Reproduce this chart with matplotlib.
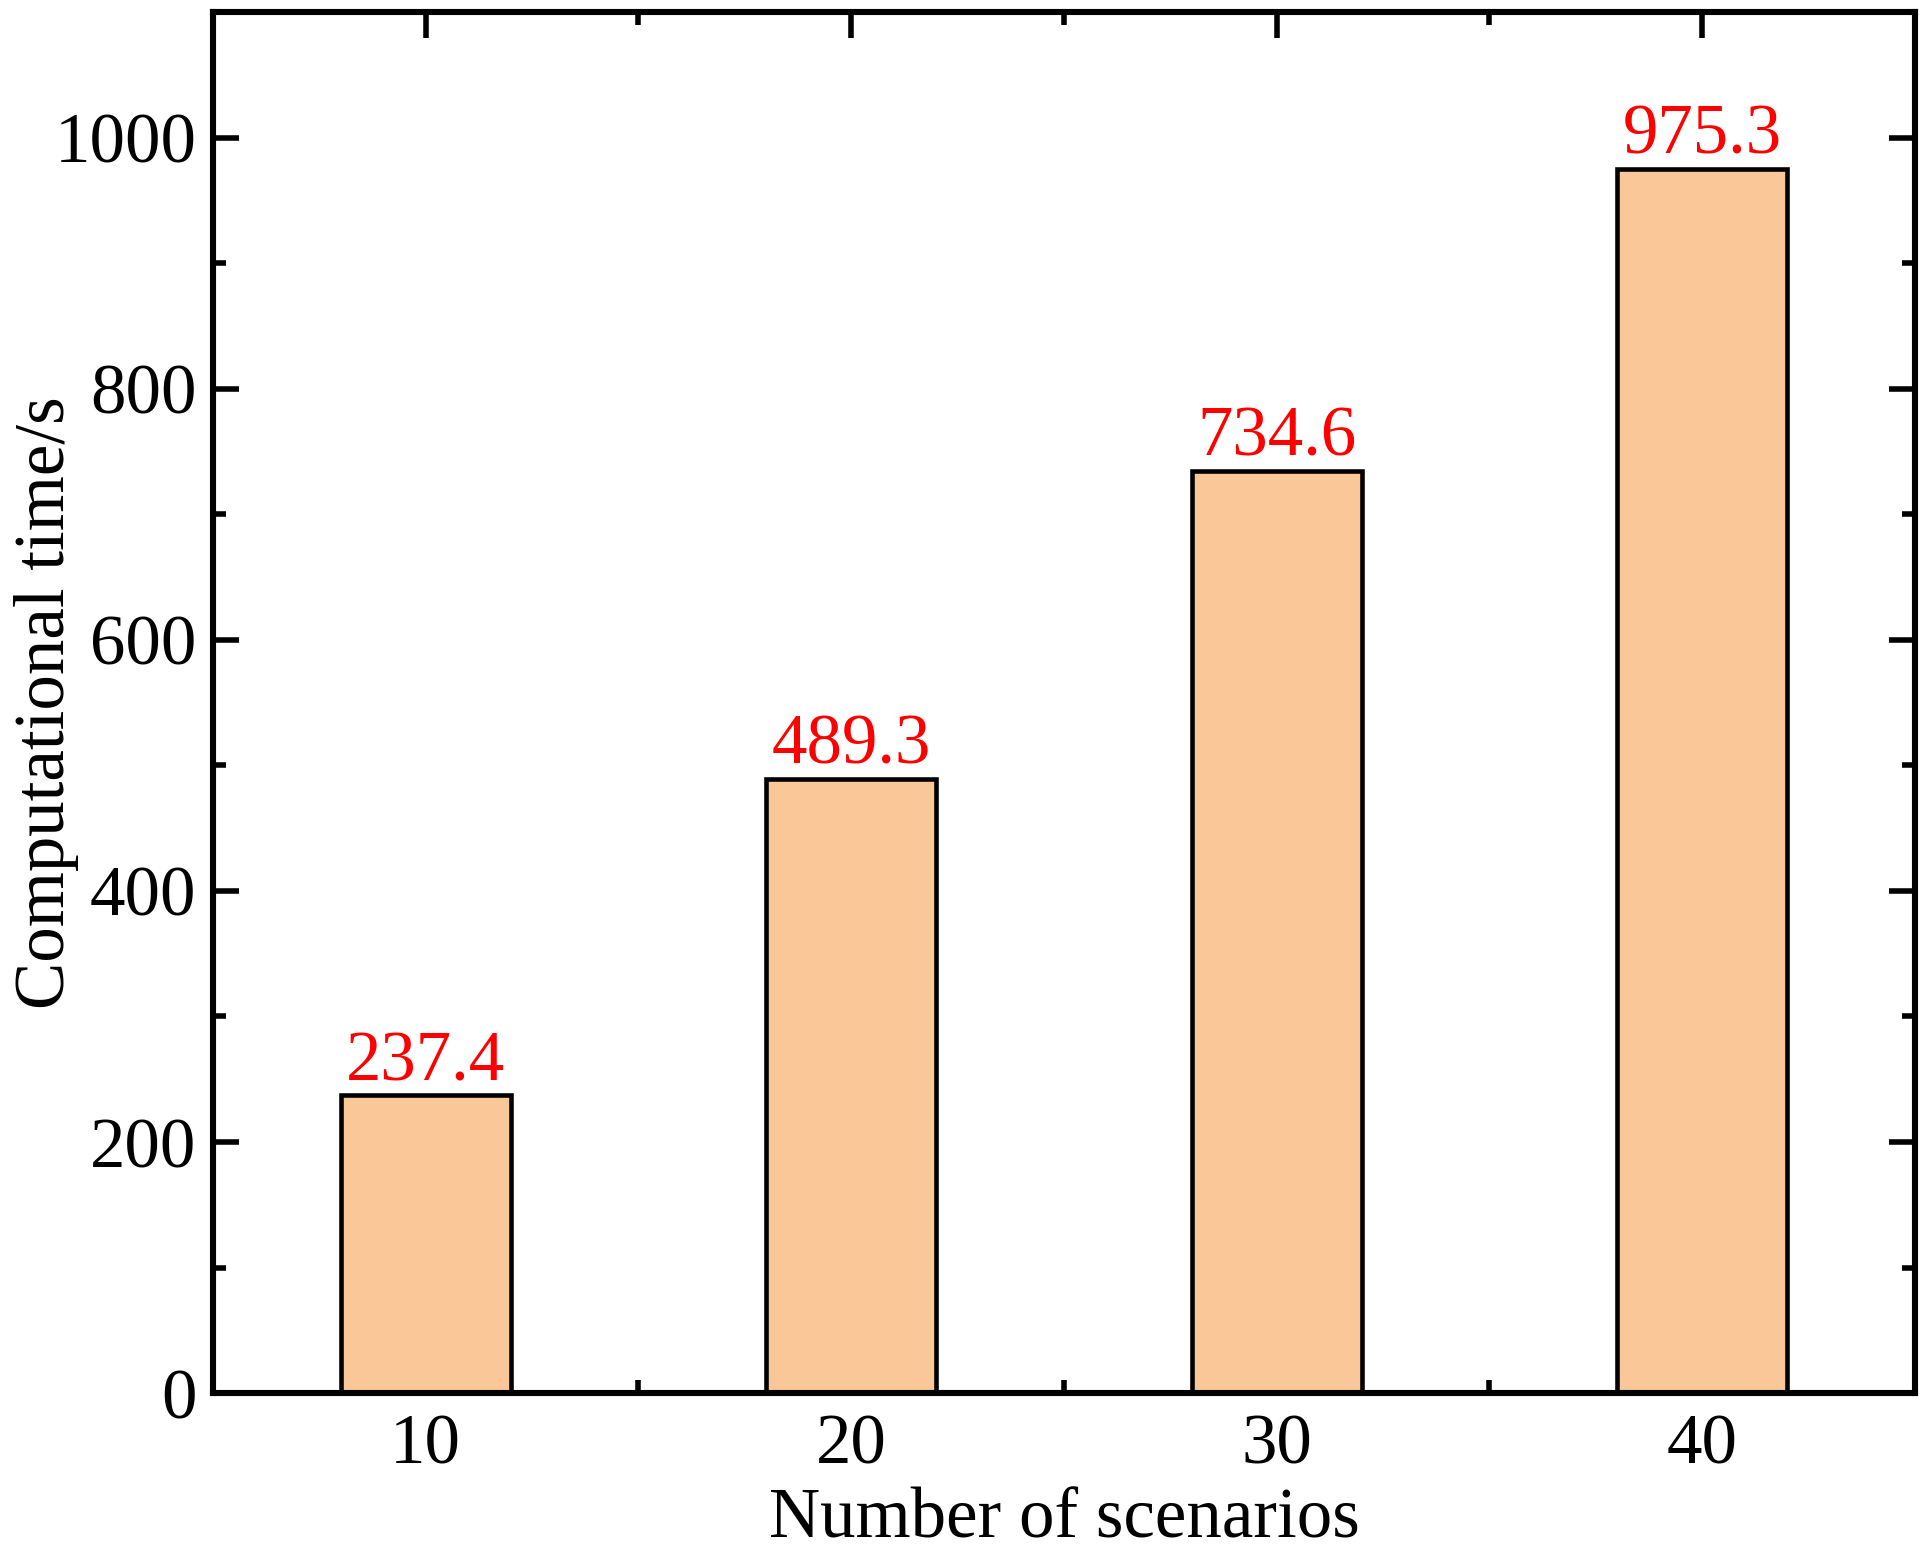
import matplotlib
matplotlib.use("Agg")
import matplotlib.pyplot as plt
from matplotlib.ticker import MultipleLocator, FixedLocator

# data
scenarios = [10, 20, 30, 40]
comp_time = [237.4, 489.3, 734.6, 975.3]

plt.rcParams["font.family"] = ["Liberation Serif", "DejaVu Serif"]
plt.rcParams["font.size"] = 51

fig = plt.figure(figsize=(19.31, 15.52), dpi=100)
ax = fig.add_axes([0.1103, 0.1024, 0.9917 - 0.1103, 0.9921 - 0.1024])

bars = ax.bar(scenarios, comp_time, width=4, color="#FAC898",
              edgecolor="black", linewidth=3.3, zorder=2)
ax.bar_label(bars, fmt="%.1f", color="red", padding=0, fontsize=51)

ax.set_xlim(5, 45)
ax.set_ylim(0, 1100)
ax.set_xticks(scenarios)
ax.xaxis.set_minor_locator(FixedLocator([15, 25, 35]))
ax.yaxis.set_major_locator(FixedLocator([0, 200, 400, 600, 800, 1000]))
ax.yaxis.set_minor_locator(MultipleLocator(100))

for s in ax.spines.values():
    s.set_linewidth(4.4)
    s.set_zorder(3)

ax.tick_params(which="both", direction="in", top=True, right=True, width=4)
ax.tick_params(which="major", length=19)
ax.tick_params(which="minor", length=9.5)
ax.tick_params(axis="x", which="major", pad=15)
ax.tick_params(axis="y", which="major", pad=12)

ax.set_xlabel("Number of scenarios", labelpad=6)
ax.set_ylabel("Computational time/s")
ax.yaxis.set_label_coords(-0.079, 0.5)

fig.savefig("out.png", dpi=100)
